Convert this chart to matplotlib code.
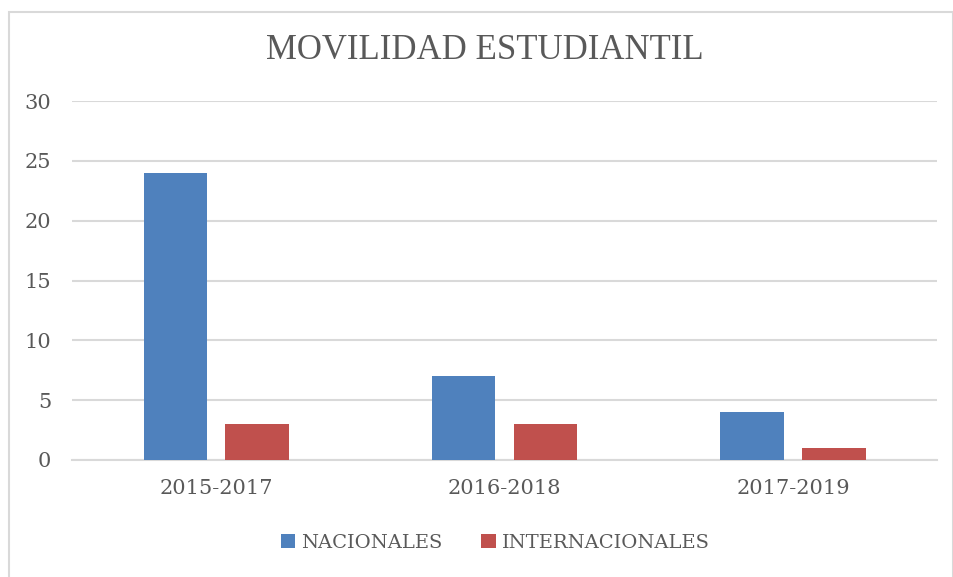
import matplotlib.pyplot as plt
import numpy as np
from matplotlib.patches import Rectangle

# datos
periodos = ['2015-2017', '2016-2018', '2017-2019']
nacionales = [24, 7, 4]
internacionales = [3, 3, 1]
yticks = [0, 5, 10, 15, 20, 25, 30]

gris = '#595959'
fig = plt.figure(figsize=(9.54, 5.77), dpi=100)
ax = fig.add_axes([0.0755, 0.2028, 0.907, 0.622])

x = np.arange(len(periodos))
w = 0.22
ax.bar(x - 0.142, nacionales, w, color='#4f81bd', label='NACIONALES', zorder=3)
ax.bar(x + 0.142, internacionales, w, color='#c0504d', label='INTERNACIONALES', zorder=3)

ax.set_xlim(-0.5, 2.5)
ax.set_ylim(0, 30)
ax.set_yticks(yticks)
ax.set_xticks(x)
ax.set_xticklabels(periodos)
ax.grid(axis='y', color='#d9d9d9', linewidth=1.5, zorder=0)
for s in ['top', 'right', 'left']:
    ax.spines[s].set_visible(False)
ax.spines['bottom'].set_color('#d9d9d9')
ax.spines['bottom'].set_linewidth(1.5)
ax.tick_params(length=0, labelcolor=gris, labelsize=15)
ax.tick_params(axis='x', pad=14)
ax.tick_params(axis='y', pad=15)
for lbl in ax.get_xticklabels() + ax.get_yticklabels():
    lbl.set_family('DejaVu Serif')

fig.text(0.508, 0.913, 'MOVILIDAD ESTUDIANTIL', ha='center', va='center',
         fontsize=25, color=gris, family='Liberation Serif')

leg = fig.legend(loc='center', bbox_to_anchor=(0.519, 0.059), ncol=2, frameon=False,
                 prop={'family': 'DejaVu Serif', 'size': 14}, handlelength=0.75,
                 handleheight=0.75, handletextpad=0.3, columnspacing=2.0)
for t in leg.get_texts():
    t.set_color(gris)

# borde del gráfico
fig.patches.append(Rectangle((0.009, -0.01), 0.99, 0.99, transform=fig.transFigure,
                             fill=False, edgecolor='#d9d9d9', linewidth=1.5))

fig.savefig('out.png', dpi=100)
